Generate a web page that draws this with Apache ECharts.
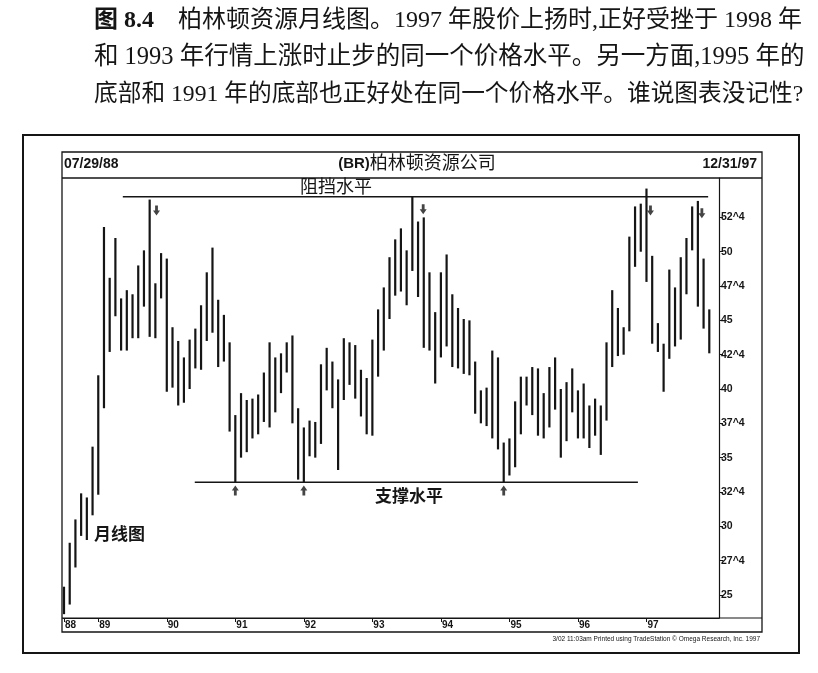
<!DOCTYPE html>
<html><head><meta charset="utf-8">
<script src="https://cdn.jsdelivr.net/npm/echarts@6/dist/echarts.min.js"></script>
<style>html,body{margin:0;padding:0;background:#fff}#c{width:818px;height:673px}</style>
</head><body><div id="c"></div>
<script>
// Monthly bars, Jul 1988 .. Dec 1997 (index 0 = Jul 88)
const monthHigh = [25.6,28.8,30.5,32.4,32.1,35.8,41.0,51.8,48.1,51.0,46.6,47.2,46.9,49.0,50.1,53.8,47.7,49.9,49.5,44.5,
  43.5,42.3,43.6,44.4,46.1,48.5,50.3,46.5,45.4,43.4,38.1,39.7,39.2,39.3,39.6,41.2,43.4,42.3,42.6,43.4,
  43.9,38.6,37.2,37.7,37.6,41.8,43.0,42.0,40.7,43.7,43.4,43.2,41.4,40.8,43.6,45.8,47.4,49.6,50.9,51.7,
  50.1,54.0,52.2,52.5,48.5,45.6,48.5,49.8,46.9,45.9,45.1,45.0,42.0,39.9,40.1,42.8,42.3,36.1,36.4,39.1,
  40.9,40.9,41.6,41.5,39.7,41.6,42.3,40.0,40.5,41.5,39.9,40.4,38.8,39.3,38.8,43.4,47.2,45.9,44.5,51.1,
  53.3,53.5,54.6,49.7,44.8,43.3,48.7,47.4,49.6,51.0,53.3,53.7,49.5,45.8];
const monthLow = [23.6,24.3,27.0,29.3,29.0,30.8,32.3,38.6,42.7,45.3,42.8,42.8,43.7,43.7,46.0,43.8,43.7,46.6,39.8,40.1,
  38.8,39.0,40.0,41.5,41.4,43.5,44.1,41.6,42.0,36.9,33.2,35.0,35.4,36.4,36.7,37.6,37.2,38.3,39.7,41.2,
  37.5,33.4,33.2,35.1,35.0,36.0,39.9,38.6,34.1,39.2,40.3,39.3,38.0,36.7,36.6,40.9,42.8,45.1,46.8,47.1,
  46.1,48.6,46.7,43.0,42.8,40.4,42.3,43.1,41.6,41.5,41.1,41.0,38.2,37.5,37.3,36.4,35.6,33.2,33.7,34.3,
  36.7,38.8,38.1,36.6,36.4,37.2,38.5,35.0,36.2,38.3,36.4,36.4,35.7,36.6,35.2,37.7,41.6,42.4,42.5,44.2,
  48.9,50.0,47.8,43.3,42.7,39.8,42.2,43.1,43.6,46.9,50.1,46.0,44.4,42.6];
const yearLabels = ['88','89','90','91','92','93','94','95','96','97'];
const yearTickIndex = [0,6,18,30,42,54,66,78,90,102];
const priceTicks = [25,27.5,30,32.5,35,37.5,40,42.5,45,47.5,50,52.5];
const resistanceLevel = 54.0, resistanceSpan = [10.3, 112.8];
const supportLevel = 33.2, supportSpan = [22.9, 100.5];
const downArrows = [[16.2,53.0],[62.9,53.1],[102.7,53.0],[111.7,52.8]];
const upArrows = [[30,32.6],[42,32.6],[77,32.6]];
const titleLines = [
  '图 8.4',
  '柏林顿资源月线图。1997 年股价上扬时,正好受挫于 1998 年',
  '和 1993 年行情上涨时止步的同一个价格水平。另一方面,1995 年的',
  '底部和 1991 年的底部也正好处在同一个价格水平。谁说图表没记性?'
];

const barData = monthHigh.map((h, i) => [i, h, monthLow[i]]);
const ink = '#151515';
const serif = '"Liberation Serif","Noto Sans CJK SC",serif';
const sans = '"Liberation Sans","Noto Sans CJK SC",sans-serif';
const downPath = 'path://M3,0 L7,0 L7,5 L10,5 L5,10 L0,5 L3,5 Z';
const upPath = 'path://M5,0 L10,5 L7,5 L7,10 L3,10 L3,5 L0,5 Z';

const chart = echarts.init(document.getElementById('c'), null, {renderer: 'canvas'});
chart.setOption({
  animation: false,
  backgroundColor: '#fff',
  grid: {left: 63, right: 99, top: 178, bottom: 55},
  xAxis: {
    type: 'value', min: -0.175, max: 114.7,
    splitLine: {show: false},
    axisLine: {show: true, onZero: false, lineStyle: {color: ink, width: 1.2}},
    axisTick: {show: true, length: 4, customValues: yearTickIndex, lineStyle: {color: ink}},
    axisLabel: {
      customValues: yearTickIndex, margin: 2, align: 'left', padding: [0,0,0,1],
      formatter: v => yearLabels[yearTickIndex.indexOf(Math.round(v))] || '',
      fontSize: 10, fontWeight: 'bold', color: ink, fontFamily: sans
    }
  },
  yAxis: {
    type: 'value', position: 'right', min: 23.32, max: 55.37,
    splitLine: {show: false},
    axisLine: {show: true, onZero: false, lineStyle: {color: ink, width: 1.2}},
    axisTick: {show: true, length: 4, customValues: priceTicks, lineStyle: {color: ink}},
    axisLabel: {
      customValues: priceTicks, margin: 2,
      formatter: v => (v % 1 ? Math.floor(v) + '^4' : String(v)),
      fontSize: 10.5, fontWeight: 'bold', color: ink, fontFamily: sans
    }
  },
  series: [
    {
      type: 'custom', data: barData, encode: {x: 0, y: [1, 2]},
      renderItem: (params, api) => {
        const x = api.value(0);
        const a = api.coord([x, api.value(1)]);
        const b = api.coord([x, api.value(2)]);
        return {type: 'line', shape: {x1: a[0], y1: a[1], x2: b[0], y2: b[1]},
          style: {stroke: ink, lineWidth: 2.2}};
      }
    },
    {type: 'line', data: [[resistanceSpan[0], resistanceLevel], [resistanceSpan[1], resistanceLevel]],
      symbol: 'none', lineStyle: {color: ink, width: 1.5}},
    {type: 'line', data: [[supportSpan[0], supportLevel], [supportSpan[1], supportLevel]],
      symbol: 'none', lineStyle: {color: ink, width: 1.5}},
    {type: 'scatter', data: downArrows, symbol: downPath, symbolSize: [7, 10], itemStyle: {color: ink}},
    {type: 'scatter', data: upArrows, symbol: upPath, symbolSize: [7, 10], itemStyle: {color: ink}}
  ],
  graphic: [
    {type: 'rect', shape: {x: 23, y: 135, width: 776, height: 518}, style: {fill: 'none', stroke: ink, lineWidth: 2}},
    {type: 'rect', shape: {x: 62, y: 152, width: 700, height: 480}, style: {fill: 'none', stroke: ink, lineWidth: 1.3}},
    {type: 'line', shape: {x1: 62, y1: 178, x2: 762, y2: 178}, style: {stroke: ink, lineWidth: 1.3}},
    {type: 'line', shape: {x1: 62, y1: 618, x2: 762, y2: 618}, style: {stroke: ink, lineWidth: 1.2}},
    {type: 'text', x: 64, y: 164, style: {text: '07/29/88', font: 'bold 14px ' + sans, fill: ink, verticalAlign: 'middle'}},
    {type: 'text', x: 417, y: 164, style: {text: '{a|(BR)}{b|柏林顿资源公司}', fill: ink, align: 'center', verticalAlign: 'middle',
      rich: {a: {font: 'bold 15px ' + sans}, b: {font: '18px ' + sans}}}},
    {type: 'text', x: 757, y: 164, style: {text: '12/31/97', font: 'bold 14px ' + sans, fill: ink, align: 'right', verticalAlign: 'middle'}},
    {type: 'text', x: 336, y: 188, style: {text: '阻挡水平', font: '18px ' + sans, fill: ink, align: 'center', verticalAlign: 'middle'}},
    {type: 'text', x: 409, y: 497, style: {text: '支撑水平', font: 'bold 17px ' + sans, fill: ink, align: 'center', verticalAlign: 'middle'}},
    {type: 'text', x: 94, y: 535, style: {text: '月线图', font: 'bold 17px ' + sans, fill: ink, verticalAlign: 'middle'}},
    {type: 'text', x: 760, y: 639, style: {text: '3/02 11:03am Printed using TradeStation © Omega Research, Inc. 1997', font: '6.5px ' + sans, fill: ink, align: 'right', verticalAlign: 'middle'}},
    {type: 'text', x: 94, y: 21, style: {text: '{b|' + titleLines[0] + '}{n|    ' + titleLines[1] + '}', verticalAlign: 'middle', fill: ink,
      rich: {b: {font: 'bold 24px ' + serif}, n: {font: '24px ' + serif}}}},
    {type: 'text', x: 94, y: 58, style: {text: titleLines[2], font: '24.5px ' + serif, fill: ink, verticalAlign: 'middle'}},
    {type: 'text', x: 94, y: 95, style: {text: titleLines[3], font: '23.7px ' + serif, fill: ink, verticalAlign: 'middle'}}
  ]
});
</script></body></html>
